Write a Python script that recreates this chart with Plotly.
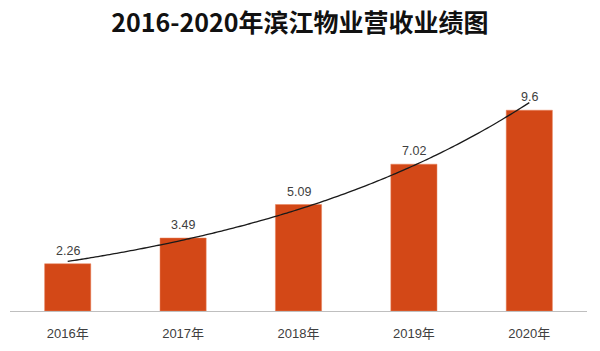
import numpy as np
import plotly.graph_objects as go

years = ["2016年", "2017年", "2018年", "2019年", "2020年"]
revenue = [2.26, 3.49, 5.09, 7.02, 9.6]
labels = ["2.26", "3.49", "5.09", "7.02", "9.6"]
title_text = "2016-2020年滨江物业营收业绩图"

idx = np.arange(len(years))

# exponential trendline fitted to the data
k, b = np.polyfit(idx, np.log(revenue), 1)
tx = np.linspace(idx[0], idx[-1], 100)
ty = np.exp(b + k * tx)

fig = go.Figure()
fig.add_trace(go.Bar(
    x=idx, y=revenue, width=0.4,
    marker=dict(color="#D34817", line=dict(color="#E8805A", width=0.5)),
    hoverinfo="skip",
))
fig.add_trace(go.Scatter(
    x=tx, y=ty, mode="lines",
    line=dict(color="#1a1a1a", width=1.3, shape="spline"),
    hoverinfo="skip",
))

for i, v, t in zip(idx, revenue, labels):
    fig.add_annotation(x=i, y=v, text=t, showarrow=False,
                       yanchor="bottom", yshift=4,
                       font=dict(size=12.5, color="#404040",
                                 family="Liberation Sans, Noto Sans CJK SC"))

fig.update_layout(
    width=600, height=351,
    margin=dict(l=10, r=13, t=60, b=38),
    paper_bgcolor="white", plot_bgcolor="white",
    showlegend=False,
    title=dict(text="<b>" + title_text + "</b>", x=0.5, xanchor="center",
               y=1 - 23 / 351, yanchor="middle",
               font=dict(size=25, color="#111111", family="Noto Sans CJK SC")),
    xaxis=dict(range=[-0.5, 4.5], tickmode="array", tickvals=idx, ticktext=years,
               showline=True, linecolor="#BFBFBF", linewidth=1,
               showgrid=False, zeroline=False, ticks="", ticklabelstandoff=10,
               tickfont=dict(size=13, color="#404040",
                             family="Liberation Sans, Noto Sans CJK SC")),
    yaxis=dict(range=[0, 12], visible=False, showgrid=False, zeroline=False),
)

fig.write_html("out.html")
